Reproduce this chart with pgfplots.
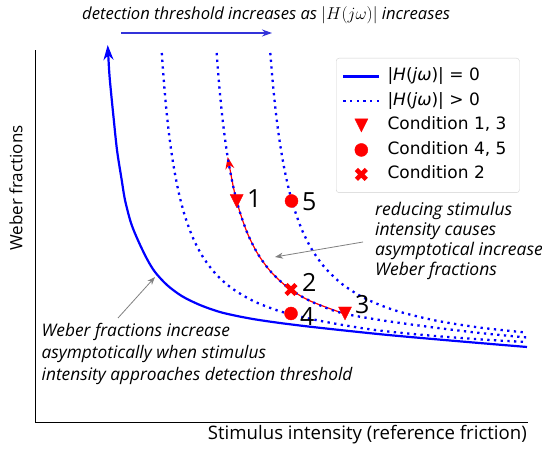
\documentclass[border=0pt]{standalone}
\usepackage{pgfplots}
\pgfplotsset{compat=1.18}
\usetikzlibrary{arrows.meta}
\usepackage{fontspec}
\setmainfont{Open Sans}
\newfontfamily\dejavu{DejaVu Sans}
\definecolor{mblue}{rgb}{0,0,1}
\definecolor{mred}{rgb}{1,0,0}
\definecolor{arrblue}{rgb}{0.2,0.2,0.85}
\pgfdeclareplotmark{tridown}{%
 \pgfpathmoveto{\pgfqpoint{0pt}{-\pgfplotmarksize}}%
 \pgfpathlineto{\pgfqpoint{-\pgfplotmarksize}{\pgfplotmarksize}}%
 \pgfpathlineto{\pgfqpoint{\pgfplotmarksize}{\pgfplotmarksize}}%
 \pgfpathclose\pgfusepathqfillstroke}
\pgfdeclareplotmark{fatx}{%
 \pgftransformrotate{45}%
 \pgfpathrectanglecorners{\pgfpoint{-1.25\pgfplotmarksize}{-0.4\pgfplotmarksize}}{\pgfpoint{1.25\pgfplotmarksize}{0.4\pgfplotmarksize}}%
 \pgftransformrotate{-90}%
 \pgfpathrectanglecorners{\pgfpoint{-1.25\pgfplotmarksize}{-0.4\pgfplotmarksize}}{\pgfpoint{1.25\pgfplotmarksize}{0.4\pgfplotmarksize}}%
 \pgfusepathqfill}
\tikzset{dotsty/.style={mblue, line width=2.3bp, dash pattern=on 2.3bp off 4.4bp}}
\pgfplotsset{
 markleg/.style={legend image code/.code={\draw[##1] plot coordinates {(18bp,0bp)};}},
 solidleg/.style={legend image code/.code={\draw[-,mblue,line width=2.2bp] (0bp,0bp) -- (36bp,0bp);}},
 dotleg/.style={legend image code/.code={\draw[-,dotsty] (0bp,0bp) -- (36bp,0bp);}},
}
\begin{document}
\begin{tikzpicture}
\begin{axis}[
 scale only axis, width=493bp, height=372bp,
 xmin=0, xmax=493, ymin=0, ymax=372,
 axis lines=left, axis line style={-, black, line width=1bp},
 xtick=\empty, ytick=\empty,
 clip=false,
 legend style={at={(axis cs:301,364)}, anchor=north west,
   font=\dejavu\fontsize{17bp}{19bp}\selectfont, draw=black!18,
   rounded corners=3bp, row sep=0bp, inner xsep=6bp, inner ysep=6bp,
   nodes={inner xsep=7bp, inner ysep=3.75bp, text height=13bp, text depth=4bp}},
 legend cell align=left,
]
\coordinate (bl) at (axis cs:-35,-29);
\coordinate (tr) at (axis cs:507,422);
% solid curve |H|=0
\addplot[mblue, line width=2.2bp, smooth, -{Stealth[length=15bp,width=10bp]}, solidleg]
 coordinates {(492,75) (415,81.5) (348,87.5) (282,94.5) (245,99) (215,103.5) (186.7,109.5) (165,117) (146.7,126) (132,137) (120,150) (112,163) (103.3,181) (96,199) (90,222) (86.7,242) (82,272) (78.3,307) (76,330) (74.3,349) (72.7,377)};
\addlegendentry{|\textit{H}(\textit{jω})| = 0}
% dotted curves |H|>0
\addplot[dotsty, smooth, dotleg]
 coordinates {(126.8,369) (128,352) (130,327) (132,306) (135,280.3) (139,253.5) (144,228.2) (150,205.7) (158,184) (168,164.9) (181,147.8) (197,133.6) (220,120.2) (250,109.2) (290,100.2) (340,92) (400,86) (455,82) (492,80)};
\addlegendentry{|\textit{H}(\textit{jω})| > 0}
\addplot[mred, line width=1.2bp, smooth, -{Stealth[length=12bp,width=9bp]}, forget plot]
 coordinates {(310,108) (275,121.1) (253,134.4) (236,150.1) (223,167.8) (213,187.4) (205,209.5) (199,232) (195.5,250) (192.7,265)};
\addplot[dotsty, smooth, forget plot]
 coordinates {(181.7,369) (183,351.3) (185,327.9) (187.5,303.4) (190.5,279.5) (194,257) (199,232) (205,209.5) (213,187.4) (223,167.8) (236,150.1) (253,134.4) (275,121.1) (305,109.4) (345,102) (395,95) (445,89) (492,84.5)};
\addplot[dotsty, smooth, forget plot]
 coordinates {(235.3,369) (236.5,354.1) (238.5,331.8) (241,308.4) (244,285.1) (248,260.3) (253,236.1) (259,214) (267,192) (277,172.3) (290,154.2) (307,138) (330,123.6) (360,111.6) (400,101.6) (445,94.4) (492,89.4)};
% markers
\addplot[only marks, mark=tridown, mark size=6.5bp, mred, mark options={fill=mred, draw=mred, solid}, markleg]
 coordinates {(201.7,221) (310,108.5)};
\addlegendentry{Condition 1, 3}
\addplot[only marks, mark=*, mark size=6.5bp, mred, mark options={fill=mred, draw=mred, solid}, markleg]
 coordinates {(256,108.5) (256.5,221)};
\addlegendentry{Condition 4, 5}
\addplot[only marks, mark=fatx, mark size=5.6bp, mred, mark options={fill=mred, draw=mred, solid}, markleg]
 coordinates {(256,132.5)};
\addlegendentry{Condition 2}
% numbers
\node[anchor=west, inner sep=0, font=\fontsize{25bp}{25bp}\selectfont] at (axis cs:212,223) {1};
\node[anchor=west, inner sep=0, font=\fontsize{25bp}{25bp}\selectfont] at (axis cs:267,140) {2};
\node[anchor=west, inner sep=0, font=\fontsize{25bp}{25bp}\selectfont] at (axis cs:320,117) {3};
\node[anchor=west, inner sep=0, font=\fontsize{25bp}{25bp}\selectfont] at (axis cs:265,105) {4};
\node[anchor=west, inner sep=0, font=\fontsize{25bp}{25bp}\selectfont] at (axis cs:267,220) {5};
% title and arrow
\node[anchor=base west, inner sep=0, font=\itshape\fontsize{16.6bp}{19bp}\selectfont] at (axis cs:47,402) {detection threshold increases as $|H(j\omega)|$ increases};
\draw[arrblue, line width=1.2bp, -{Stealth[length=10bp,width=7bp]}] (axis cs:86,389) -- (axis cs:237,389);
% annotations
\node[anchor=north west, align=left, inner sep=0, font=\itshape\fontsize{17.5bp}{20bp}\selectfont] at (axis cs:340,220) {reducing stimulus\\intensity causes\\asymptotical increase\\Weber fractions};
\draw[gray, line width=0.8bp, -{Stealth[length=8bp,width=6bp]}] (axis cs:328,180) -- (axis cs:240,165);
\node[anchor=north west, align=left, inner sep=0, font=\itshape\fontsize{17.3bp}{22bp}\selectfont] at (axis cs:6.5,98.5) {Weber fractions increase\\asymptotically when stimulus\\intensity approaches detection threshold};
\draw[gray, line width=0.8bp, -{Stealth[length=8bp,width=6bp]}] (axis cs:83,104) -- (axis cs:120,145);
% axis labels
\node[rotate=90, inner sep=0, font=\fontsize{17bp}{17bp}\selectfont] at (axis cs:-19,234) {Weber fractions};
\node[anchor=east, inner sep=0, font=\fontsize{18.6bp}{18.6bp}\selectfont] at (axis cs:492,-13) {Stimulus intensity (reference friction)};
\end{axis}
\pgfresetboundingbox
\useasboundingbox (bl) rectangle (tr);
\end{tikzpicture}
\end{document}
